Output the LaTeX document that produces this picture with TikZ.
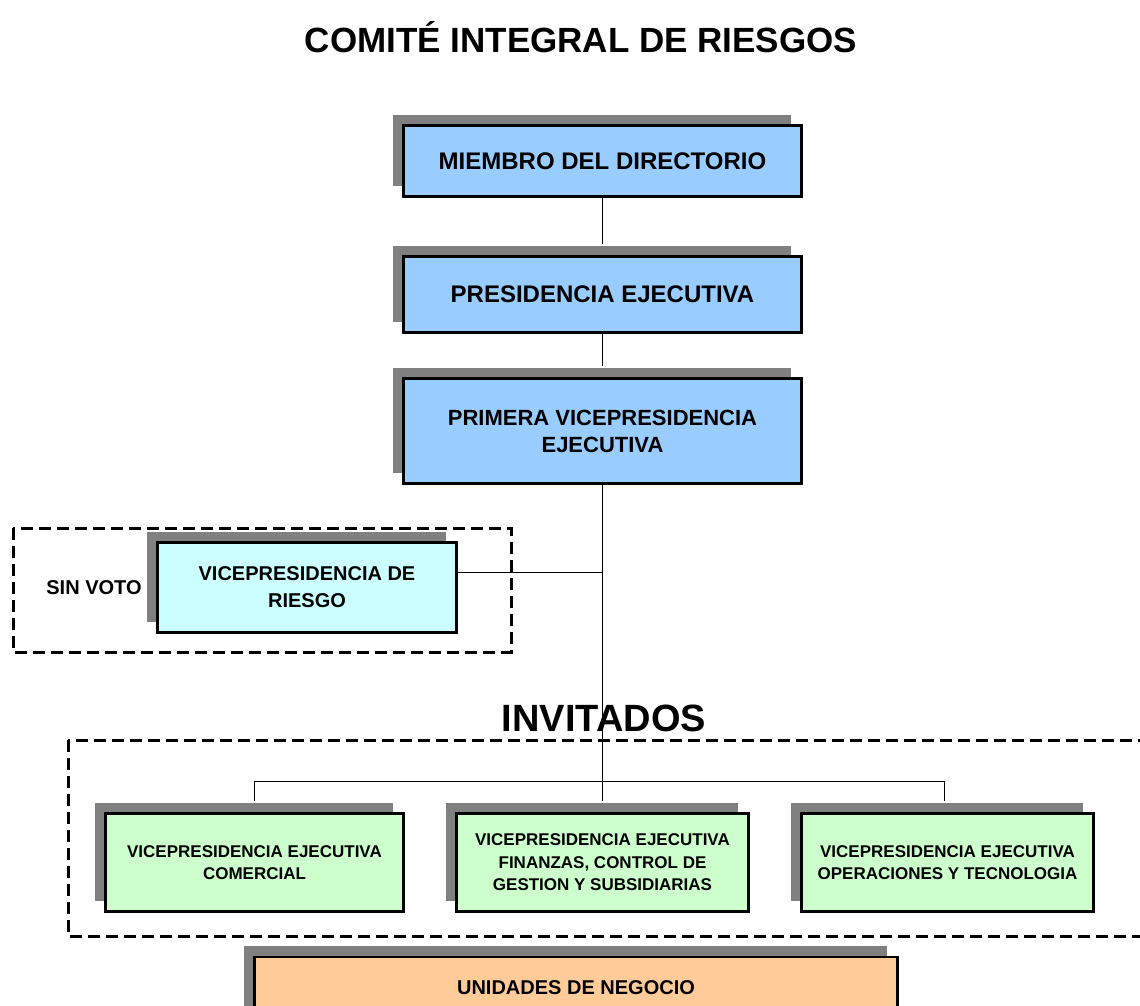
\documentclass[tikz,border=0pt]{standalone}
\usepackage{fontspec}
\setmainfont{Liberation Sans}
\usetikzlibrary{shadows}
\definecolor{dirblue}{HTML}{99CCFF}
\definecolor{riskcyan}{HTML}{CCFFFF}
\definecolor{guestgreen}{HTML}{CCFFCC}
\definecolor{unitorange}{HTML}{FFCC99}
\definecolor{shadowgray}{HTML}{808080}
\tikzset{
  orgbox/.style={draw=black, line width=2.5pt, inner sep=0pt, align=center,
    general shadow={fill=shadowgray, draw=none, shadow xshift=-11pt, shadow yshift=11pt}},
  link/.style={line width=1.2pt},
  dashbox/.style={line width=3pt, dash pattern=on 12pt off 6pt},
}
\begin{document}
\begin{tikzpicture}[x=1pt,y=-1pt]
\useasboundingbox (0,0) rectangle (1140,1005);
\node[font=\fontsize{35}{40}\selectfont\bfseries] (title) at (581,37) {COMITÉ INTEGRAL DE RIESGOS};
% dashed groups
\draw[dashbox] (13,528) rectangle (511,652);
\draw[dashbox] (68,740) rectangle (1160,936);
% main chain
\node[orgbox, fill=dirblue, minimum width=398pt, minimum height=71pt,
  font=\fontsize{24}{29}\selectfont\bfseries] (dir) at (602.5,161) {MIEMBRO DEL DIRECTORIO};
\node[orgbox, fill=dirblue, minimum width=398pt, minimum height=76pt,
  font=\fontsize{24}{29}\selectfont\bfseries] (pres) at (602.5,294.5) {PRESIDENCIA EJECUTIVA};
\node[orgbox, fill=dirblue, minimum width=398pt, minimum height=105pt,
  font=\fontsize{22}{27}\selectfont\bfseries] (pvp) at (602.5,431) {PRIMERA VICEPRESIDENCIA\\EJECUTIVA};
\node[orgbox, fill=riskcyan, minimum width=299pt, minimum height=90pt,
  font=\fontsize{20}{27}\selectfont\bfseries] (riesgo) at (307,587.5) {VICEPRESIDENCIA DE\\RIESGO};
\node[font=\fontsize{20}{24}\selectfont\bfseries] (sinvoto) at (94,588) {SIN VOTO};
\node[font=\fontsize{38}{44}\selectfont\bfseries] (invitados) at (604,718) {INVITADOS};
% invited boxes
\node[orgbox, fill=guestgreen, minimum width=298pt, minimum height=98pt,
  font=\fontsize{17}{22.5}\selectfont\bfseries] (vpc) at (254.5,862.5) {VICEPRESIDENCIA EJECUTIVA\\COMERCIAL};
\node[orgbox, fill=guestgreen, minimum width=292pt, minimum height=98pt,
  font=\fontsize{17}{22.5}\selectfont\bfseries] (vpf) at (602.5,862.5) {VICEPRESIDENCIA EJECUTIVA\\FINANZAS, CONTROL DE\\GESTION Y SUBSIDIARIAS};
\node[orgbox, fill=guestgreen, minimum width=292pt, minimum height=98pt,
  font=\fontsize{17}{22.5}\selectfont\bfseries] (vpo) at (947.5,862.5) {VICEPRESIDENCIA EJECUTIVA\\OPERACIONES Y TECNOLOGIA};
\node[orgbox, fill=unitorange, minimum width=643pt, minimum height=70pt,
  font=\fontsize{20}{24}\selectfont\bfseries] (unidades) at (576,992) {\raisebox{9pt}{UNIDADES DE NEGOCIO}};
% connectors
\draw[link] (dir.south) -- ([yshift=11pt]pres.north);
\draw[link] (pres.south) -- ([yshift=11pt]pvp.north);
\draw[link] (pvp.south) -- ([yshift=11pt]vpf.north);
\draw[link] ([yshift=15pt]riesgo.east) -| (pvp.south);
\draw[link] ([yshift=11pt]vpc.north) -- ++(0,-20) -| ([xshift=-3pt,yshift=11pt]vpo.north);
\end{tikzpicture}
\end{document}
